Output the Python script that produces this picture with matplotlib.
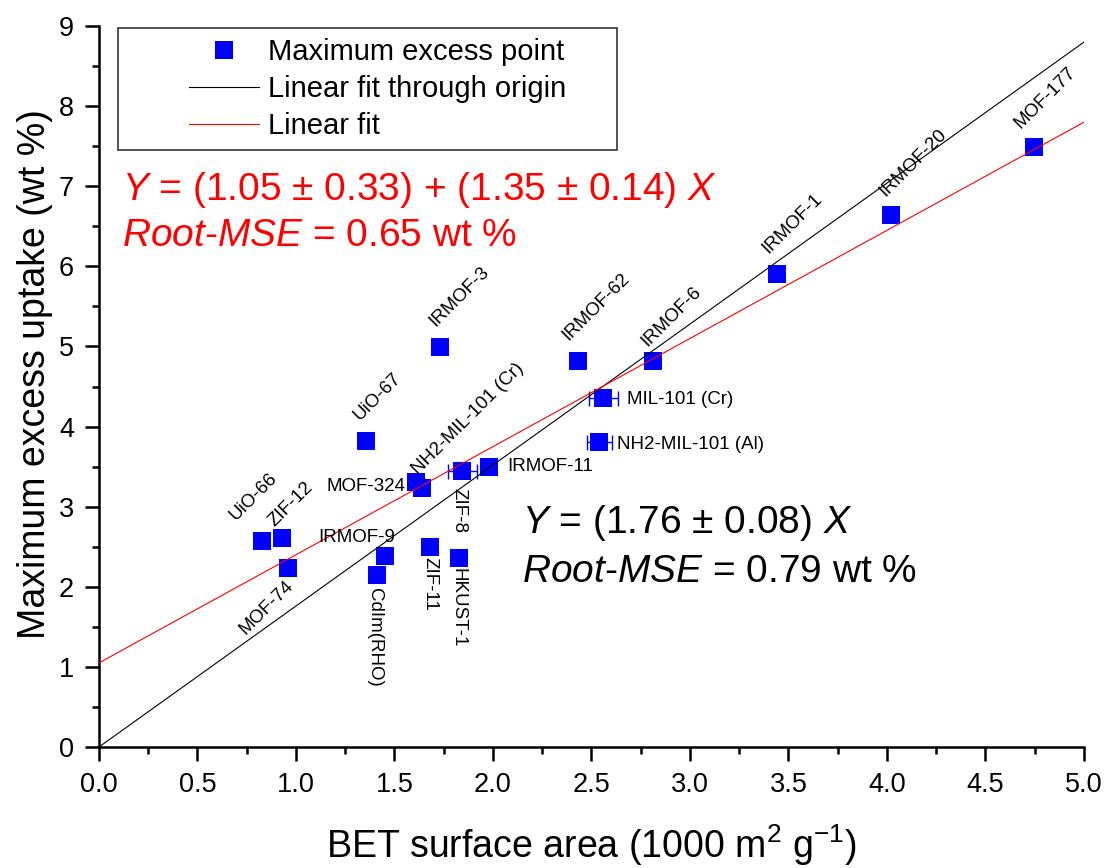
import numpy as np
import matplotlib
matplotlib.use("Agg")
import matplotlib.pyplot as plt
from matplotlib.legend_handler import HandlerLine2D

plt.rcParams["font.family"] = ["Liberation Sans", "DejaVu Sans"]
plt.rcParams["mathtext.fontset"] = "custom"
plt.rcParams["mathtext.rm"] = "Liberation Sans"
plt.rcParams["mathtext.it"] = "Liberation Sans:italic"

# data (BET in 1000 m2/g, excess uptake in wt %)
names = ["MOF-177", "IRMOF-20", "IRMOF-1", "IRMOF-6", "IRMOF-62", "IRMOF-3",
         "MIL-101 (Cr)", "NH2-MIL-101 (Al)", "IRMOF-11", "NH2-MIL-101 (Cr)",
         "ZIF-8", "MOF-324", "UiO-67", "UiO-66", "ZIF-12", "MOF-74",
         "IRMOF-9", "CdIm(RHO)", "ZIF-11", "HKUST-1"]
bet = [4.746, 4.02, 3.44, 2.81, 2.43, 1.73,
       2.56, 2.54, 1.98, 1.845,
       1.64, 1.61, 1.355, 0.83, 0.93, 0.96,
       1.45, 1.41, 1.68, 1.83]
uptake = [7.49, 6.64, 5.90, 4.82, 4.82, 4.99,
          4.36, 3.81, 3.50, 3.45,
          3.23, 3.31, 3.82, 2.57, 2.61, 2.24,
          2.38, 2.15, 2.50, 2.36]
bet_err = [0, 0, 0, 0, 0, 0,
           0.074, 0.063, 0, 0.074,
           0, 0, 0, 0, 0, 0,
           0, 0, 0, 0]

# fits
origin_slope = 1.76
lin_intercept = 1.05
lin_slope = 1.35

# label placement: offset in pixels, rotation, ha, va
label_style = {
    "MOF-177": (-11, 15, 45, "left", "bottom"),
    "IRMOF-20": (-3, 15, 45, "left", "bottom"),
    "IRMOF-1": (-6, 18, 45, "left", "bottom"),
    "IRMOF-6": (-2, 11, 45, "left", "bottom"),
    "IRMOF-62": (-7, 17, 45, "left", "bottom"),
    "IRMOF-3": (-2, 17, 45, "left", "bottom"),
    "MIL-101 (Cr)": (24, -2, 0, "left", "center"),
    "NH2-MIL-101 (Al)": (18, -3, 0, "left", "center"),
    "IRMOF-11": (18, 0, 0, "left", "center"),
    "NH2-MIL-101 (Cr)": (-41, -7, 45, "left", "bottom"),
    "ZIF-8": (37, 0, -90, "left", "center"),
    "MOF-324": (-11, -5, 0, "right", "center"),
    "UiO-67": (-4, 17, 45, "left", "bottom"),
    "UiO-66": (-24, 17, 45, "left", "bottom"),
    "ZIF-12": (-5, 8, 45, "left", "bottom"),
    "MOF-74": (-3, -10, 45, "right", "top"),
    "IRMOF-9": (10, 19, 0, "right", "center"),
    "CdIm(RHO)": (-2, -13, -90, "left", "center"),
    "ZIF-11": (0, -10, -90, "left", "center"),
    "HKUST-1": (-1, -10, -90, "left", "center"),
}


class ShiftedLine(HandlerLine2D):
    # draw the legend key in the right part of a long handle box
    def get_xdata(self, legend, xdescent, ydescent, width, height, fontsize):
        start = 2.1 * fontsize
        xdata = np.array([start, width])
        return xdata, np.array([(start + width) / 2])


fig = plt.figure(figsize=(11.06, 8.68), dpi=100)
ax = fig.add_axes([0.0895, 0.1394, 0.8906, 0.8306])

err_idx = [i for i, e in enumerate(bet_err) if e > 0]
ax.errorbar([bet[i] for i in err_idx], [uptake[i] for i in err_idx],
            xerr=[bet_err[i] for i in err_idx], fmt="none",
            ecolor="#0000ff", elinewidth=1.0, capsize=5.4, capthick=1.0, zorder=2)
pts, = ax.plot(bet, uptake, "s", color="#0000ff", ms=12.5, mew=0, zorder=3,
               label="Maximum excess point")

xfit = np.array([0.0, 5.0])
l0, = ax.plot(xfit, origin_slope * xfit, color="black", lw=0.8, zorder=4,
              label="Linear fit through origin")
l1, = ax.plot(xfit, lin_intercept + lin_slope * xfit, color="#ff0000", lw=0.8,
              zorder=4, label="Linear fit")

for name, x, y in zip(names, bet, uptake):
    dx, dy, rot, ha, va = label_style[name]
    ax.annotate(name, (x, y), xytext=(dx, dy), textcoords="offset pixels",
                rotation=rot, rotation_mode="anchor", ha=ha, va=va,
                fontsize=13.5, zorder=5)

leg = ax.legend(handles=[pts, l0, l1], loc="upper left",
                bbox_to_anchor=(0.0193, 0.832, 0.507, 0.165), mode="expand",
                borderaxespad=0, borderpad=0.35, handlelength=4.5,
                handletextpad=0.3, labelspacing=0.3, fontsize=21,
                fancybox=False, framealpha=1, edgecolor="#333333",
                handler_map={pts: ShiftedLine(), l0: ShiftedLine(), l1: ShiftedLine()})
leg.get_frame().set_linewidth(1.2)

ax.text(0.0234, 0.7587, r"$\it{Y}$ = (1.05 ± 0.33) + (1.35 ± 0.14) $\it{X}$",
        transform=ax.transAxes, color="#ff0000", fontsize=28, va="baseline")
ax.text(0.0234, 0.6949, r"$\it{Root}$-$\it{MSE}$ = 0.65 wt %",
        transform=ax.transAxes, color="#ff0000", fontsize=28, va="baseline")
ax.text(0.4294, 0.2968, r"$\it{Y}$ = (1.76 ± 0.08) $\it{X}$",
        transform=ax.transAxes, color="black", fontsize=28, va="baseline")
ax.text(0.4294, 0.2288, r"$\it{Root}$-$\it{MSE}$ = 0.79 wt %",
        transform=ax.transAxes, color="black", fontsize=28, va="baseline")

ax.set_xlim(0, 5)
ax.set_ylim(0, 9)
ax.set_xticks(np.arange(0, 5.01, 0.5))
ax.set_xticks(np.arange(0.25, 5, 0.5), minor=True)
ax.set_yticks(np.arange(0, 10, 1))
ax.set_yticks(np.arange(0.5, 9, 1), minor=True)
ax.set_xticklabels([f"{v:.1f}" for v in np.arange(0, 5.01, 0.5)])
ax.tick_params(which="major", direction="out", length=10, width=1.8,
               labelsize=19.5, pad=8)
ax.tick_params(which="minor", direction="out", length=5, width=1.8)

for side in ["top", "right"]:
    ax.spines[side].set_visible(False)
for side in ["left", "bottom"]:
    ax.spines[side].set_linewidth(1.8)

ax.set_xlabel(r"BET surface area (1000 m$^{2}$ g$^{-1}$)", fontsize=27)
ax.set_ylabel("Maximum excess uptake (wt %)", fontsize=27)
ax.xaxis.set_label_coords(0.5, -0.154)
ax.xaxis.label.set_va("baseline")
ax.yaxis.set_label_coords(-0.0467, 0.517)

fig.savefig("out.png", dpi=100)
